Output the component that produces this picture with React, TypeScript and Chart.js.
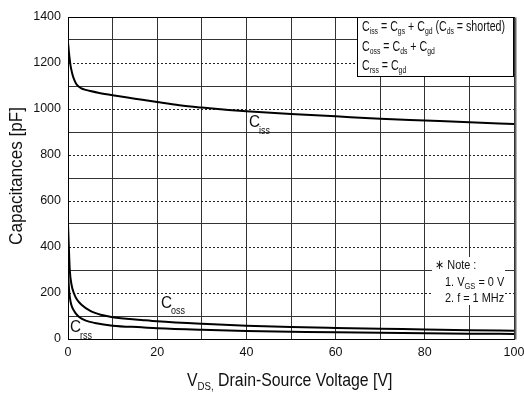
import React, { useEffect, useRef } from 'react';
import { Chart, registerables } from 'chart.js';
Chart.register(...registerables);

const FONT = "'Liberation Sans', Arial, sans-serif";

// Drain-source voltage samples [V] and capacitances [pF]
const cissV = [0, 0.3, 0.6, 1, 1.5, 2, 3, 4, 5, 7, 10, 15, 20, 25, 30, 36, 40, 50, 60, 70, 80, 90, 100];
const cissC = [1290, 1230, 1185, 1150, 1122, 1105, 1090, 1083, 1078, 1070, 1060, 1045, 1030, 1016, 1006, 996, 990, 978, 968, 958, 950, 942, 935];

const cossV = [0, 0.15, 0.4, 0.8, 1.3, 2, 3.1, 5, 7.6, 10, 16.5, 20, 30, 40, 50, 60, 75, 90, 100];
const cossC = [500, 420, 300, 235, 200, 172, 148, 122, 104, 95, 83, 77, 66, 58, 52, 48, 43, 38, 36];

const crssV = [0, 0.15, 0.3, 0.6, 1, 1.6, 2.5, 4, 6, 10, 16.5, 20, 30, 40, 50, 60, 75, 90, 100];
const crssC = [300, 240, 200, 160, 135, 115, 96, 80, 70, 58, 51, 47, 40, 35, 32, 29, 26, 23, 22];

const xMin = 0, xMax = 100, xStep = 10, xLabelEvery = 20;
const yMin = 0, yMax = 1400, yStep = 100, yLabelEvery = 200;

const toPts = (xs: number[], ys: number[]) => xs.map((x, i) => ({ x, y: ys[i] }));

type Part = [string, number];
// draws horizontally condensed rich text (subscripts flagged with 1)
function rich(ctx: CanvasRenderingContext2D, x: number, y: number, parts: Part[], size: number, sub: number, drop: number, sx: number) {
  let cx = x;
  for (const [t, s] of parts) {
    ctx.font = `${s ? sub : size}px ${FONT}`;
    ctx.save();
    ctx.translate(cx, s ? y + drop : y);
    ctx.scale(sx, 1);
    ctx.fillText(t, 0, 0);
    ctx.restore();
    cx += ctx.measureText(t).width * sx;
  }
}

const decor = {
  id: 'decor',
  afterDraw(chart: any) {
    const ctx: CanvasRenderingContext2D = chart.ctx;
    const ca = chart.chartArea;
    ctx.save();
    // frame
    ctx.strokeStyle = '#000';
    ctx.lineWidth = 1;
    const L = Math.round(ca.left) + 0.5, T = Math.round(ca.top) + 0.5;
    const R = Math.round(ca.right) + 0.5, B = Math.round(ca.bottom) + 0.5;
    ctx.beginPath();
    ctx.moveTo(L, T); ctx.lineTo(R, T); ctx.lineTo(R, B); ctx.lineTo(L, B); ctx.closePath();
    ctx.stroke();
    ctx.lineWidth = 2;
    ctx.strokeStyle = '#666';
    ctx.beginPath(); ctx.moveTo(R + 1, T); ctx.lineTo(R + 1, B); ctx.stroke();

    // legend box
    ctx.fillStyle = '#fff';
    ctx.lineWidth = 1;
    ctx.strokeStyle = '#000';
    ctx.fillRect(357.5, T, R - 1 - 357.5, 59);
    ctx.strokeRect(357.5, T, R - 1 - 357.5, 59);
    ctx.fillStyle = '#111';
    ctx.textAlign = 'left';
    ctx.textBaseline = 'alphabetic';
    const lsx = 0.76;
    rich(ctx, 362, 31, [['C', 0], ['iss', 1], [' = C', 0], ['gs', 1], [' + C', 0], ['gd', 1], [' (C', 0], ['ds', 1], [' = shorted)', 0]], 14, 9, 3, lsx);
    rich(ctx, 362, 51, [['C', 0], ['oss', 1], [' = C', 0], ['ds', 1], [' + C', 0], ['gd', 1]], 14, 9, 3, lsx);
    rich(ctx, 362, 70, [['C', 0], ['rss', 1], [' = C', 0], ['gd', 1]], 14, 9, 3, lsx);

    // note box
    ctx.fillStyle = '#fff';
    ctx.fillRect(432, 257, 73, 48);
    ctx.fillStyle = '#111';
    const nsx = 0.84;
    rich(ctx, 435, 269, [['\u2217 Note :', 0]], 13, 9, 3, nsx);
    rich(ctx, 445, 286, [['1. V', 0], ['GS', 1], [' = 0 V', 0]], 13, 9, 3, nsx);
    rich(ctx, 445, 302, [['2. f = 1 MHz', 0]], 13, 9, 3, nsx);

    // curve labels
    const csx = 0.9;
    rich(ctx, 249, 127, [['C', 0]], 17, 10, 0, csx);
    rich(ctx, 259, 134, [['iss', 0]], 10, 10, 0, csx);
    rich(ctx, 161, 308, [['C', 0]], 17, 10, 0, csx);
    rich(ctx, 171, 314, [['oss', 0]], 10, 10, 0, csx);
    rich(ctx, 70, 332, [['C', 0]], 17, 10, 0, csx);
    rich(ctx, 80, 339, [['rss', 0]], 10, 10, 0, csx);

    // axis titles
    rich(ctx, 187, 386, [['V', 0], ['DS,', 1], [' Drain-Source Voltage [V]', 0]], 18, 11, 4, 0.88);
    ctx.translate(22, 176);
    ctx.rotate(-Math.PI / 2);
    ctx.scale(0.95, 1);
    ctx.textAlign = 'center';
    ctx.font = `18px ${FONT}`;
    ctx.fillText('Capacitances [pF]', 0, 0);
    ctx.restore();
  },
};

export default function App() {
  const ref = useRef<HTMLCanvasElement>(null);
  useEffect(() => {
    if (!ref.current) return;
    const line = { borderColor: '#000', borderWidth: 2, pointRadius: 0, fill: false, cubicInterpolationMode: 'monotone' as const };
    const chart = new Chart(ref.current, {
      type: 'line',
      data: {
        datasets: [
          { label: 'Ciss', data: toPts(cissV, cissC), ...line },
          { label: 'Coss', data: toPts(cossV, cossC), ...line },
          { label: 'Crss', data: toPts(crssV, crssC), ...line },
        ],
      },
      options: {
        animation: false,
        responsive: true,
        maintainAspectRatio: false,
        layout: { padding: { left: 0, top: 17, right: 10, bottom: 0 } },
        plugins: { legend: { display: false }, tooltip: { enabled: false } },
        scales: {
          x: {
            type: 'linear',
            min: xMin,
            max: xMax,
            afterFit: (s: any) => { s.height = 55; s.paddingLeft = 0; s.paddingRight = 0; },
            ticks: {
              stepSize: xStep,
              autoSkip: false,
              maxRotation: 0,
              padding: 6,
              color: '#111',
              font: { family: FONT, size: 12.5 },
              callback: (v: any) => (Number(v) % xLabelEvery === 0 ? String(v) : ''),
            },
            grid: { color: '#333', lineWidth: 1, drawTicks: false },
            border: { color: '#000', width: 1 },
          },
          y: {
            type: 'linear',
            min: yMin,
            max: yMax,
            afterFit: (s: any) => { s.width = 68; s.paddingTop = 0; s.paddingBottom = 0; },
            ticks: {
              stepSize: yStep,
              autoSkip: false,
              padding: 7,
              color: '#111',
              font: { family: FONT, size: 12.5 },
              callback: (v: any) => (Number(v) % yLabelEvery === 0 ? String(v) : ''),
            },
            grid: {
              drawTicks: false,
              lineWidth: 1,
              color: (c: any) => (c.tick && c.tick.value % yLabelEvery === 0 ? '#222' : '#333'),
            },
            border: {
              color: '#000',
              width: 1,
              dash: (c: any) => (c.tick && c.tick.value % yLabelEvery === 0 ? [2, 2] : []),
            },
          },
        },
      },
      plugins: [decor],
    });
    return () => chart.destroy();
  }, []);
  return (
    <div style={{ position: 'fixed', left: 0, top: 0, width: 524, height: 394, background: '#fff' }}>
      <canvas ref={ref} />
    </div>
  );
}
